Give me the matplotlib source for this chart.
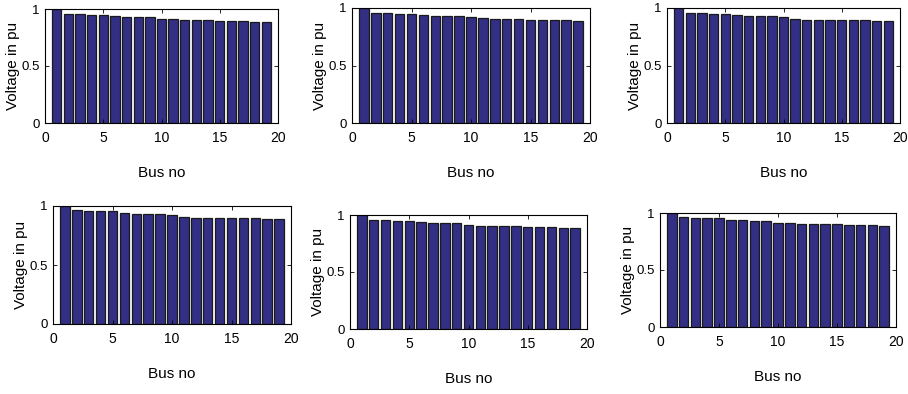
import matplotlib.pyplot as plt
import numpy as np

# ==========================================================
# DATA
# ==========================================================

bus = np.arange(1, 20)

v_case1 = [1.00, 0.96, 0.955, 0.95, 0.95, 0.935, 0.93, 0.93, 0.93, 0.915,
           0.91, 0.90, 0.90, 0.90, 0.897, 0.895, 0.897, 0.89, 0.89]
v_case2 = [1.00, 0.96, 0.958, 0.95, 0.952, 0.935, 0.932, 0.932, 0.93, 0.92,
           0.91, 0.905, 0.905, 0.905, 0.90, 0.898, 0.898, 0.893, 0.89]
v_case3 = [1.00, 0.96, 0.955, 0.95, 0.95, 0.935, 0.93, 0.93, 0.93, 0.92,
           0.905, 0.90, 0.90, 0.90, 0.897, 0.895, 0.897, 0.89, 0.89]
v_case4 = [1.00, 0.965, 0.96, 0.955, 0.955, 0.94, 0.93, 0.93, 0.93, 0.92,
           0.91, 0.90, 0.90, 0.90, 0.90, 0.895, 0.897, 0.893, 0.89]
v_case5 = [1.00, 0.96, 0.955, 0.95, 0.95, 0.935, 0.93, 0.93, 0.93, 0.915,
           0.905, 0.90, 0.90, 0.90, 0.897, 0.895, 0.897, 0.89, 0.89]
v_case6 = [1.00, 0.965, 0.96, 0.955, 0.955, 0.94, 0.935, 0.93, 0.93, 0.915,
           0.91, 0.905, 0.90, 0.905, 0.90, 0.895, 0.895, 0.893, 0.888]

cases = [v_case1, v_case2, v_case3, v_case4, v_case5, v_case6]

x_ticks = [0, 5, 10, 15, 20]
y_ticks = [0, 0.5, 1]
y_tick_labels = ["0", "0.5", "1"]

# ==========================================================
# PLOT
# ==========================================================

plt.rcParams.update({
    "font.family": "Liberation Sans",
    "font.size": 10
})

W, H = 908, 394
fig = plt.figure(figsize=(W / 100, H / 100), dpi=100)

# axes boxes in pixels: left, top, right, bottom
boxes = [
    (45, 9, 278, 123),
    (352, 8, 590, 123),
    (667, 8, 900, 123),
    (53, 206, 291, 324),
    (350, 215, 587, 329),
    (660, 213, 896, 327),
]

for box, v in zip(boxes, cases):
    l, t, r, b = box
    ax = fig.add_axes([l / W, 1 - b / H, (r - l) / W, (b - t) / H])

    ax.bar(bus, v, width=0.8, color="#332f85", edgecolor="#1a1a1a",
           linewidth=0.9)

    ax.set_xlim(0, 20)
    ax.set_ylim(0, 1)
    ax.set_xticks(x_ticks)
    ax.set_yticks(y_ticks)
    ax.set_yticklabels(y_tick_labels)

    ax.tick_params(direction="in", top=True, right=True, length=3,
                   width=0.6)
    ax.tick_params(axis="x", pad=6)
    ax.tick_params(axis="y", pad=4, labelsize=9.5)
    for s in ax.spines.values():
        s.set_linewidth(0.8)

    ax.set_xlabel("Bus no", fontsize=11, labelpad=15)
    ax.set_ylabel("Voltage in pu", fontsize=11, va="center")
    ax.yaxis.set_label_coords(-32 / (r - l), 0.5)

plt.savefig("out.png", dpi=100)
